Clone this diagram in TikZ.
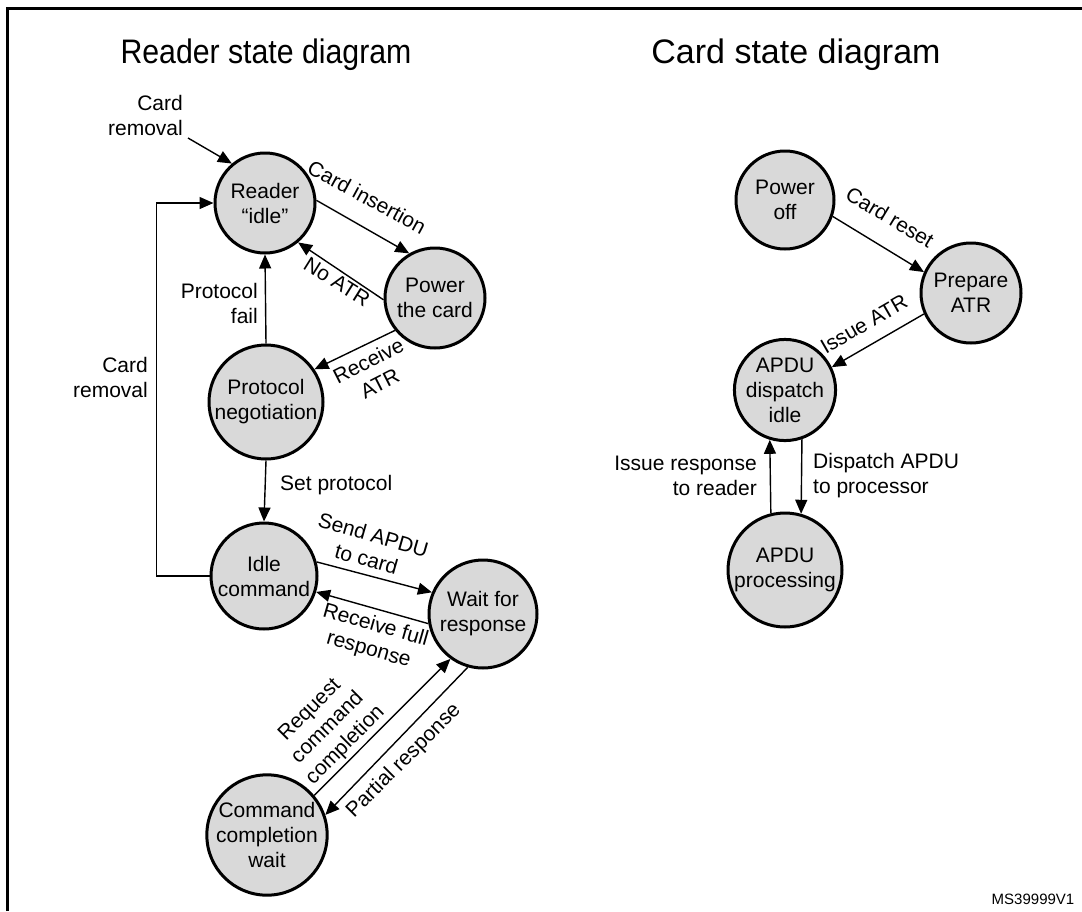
\documentclass[tikz,border=0pt]{standalone}
\usepackage{fontspec}
\usepackage{graphicx}
\setmainfont{Liberation Sans}
\usetikzlibrary{arrows.meta,calc}
\definecolor{stfill}{HTML}{D9D9D9}
\begin{document}
\begin{tikzpicture}[x=1pt,y=-1pt,
  st/.style={circle,draw,line width=3pt,fill=stfill,inner sep=0pt,align=center,font=\fontsize{21}{25}\selectfont},
  tr/.style={line width=1.4pt,-{Triangle[length=14pt,width=12pt]}},
  lbl/.style={font=\fontsize{21}{25}\selectfont,inner sep=0pt},
  ttl/.style={font=\fontsize{34}{40}\selectfont,inner sep=0pt,anchor=base}]
\useasboundingbox (0,0) rectangle (1082,911);
\draw[line width=2.7pt] (7.5,911) -- (7.5,8.5) -- (1082,8.5);

\node[ttl] (t1) at (266,63) {\scalebox{0.89}[1]{Reader state diagram}};
\node[ttl] (t2) at (796,63) {Card state diagram};

% reader states
\node[st,minimum size=100pt] (R) at (265,203) {Reader\\“idle”};
\node[st,minimum size=100pt] (P) at (435,298) {Power\\the card};
\node[st,minimum size=114pt] (N) at (266,402) {Protocol\\negotiation};
\node[st,minimum size=106pt] (I) at (264,576) {Idle\\command};
\node[st,minimum size=108pt] (W) at (483,614) {Wait for\\response};
\node[st,minimum size=116pt] (C) at (267,835) {Command\\completion\\wait};

% card states
\node[st,minimum size=98pt] (O) at (785,200) {Power\\off};
\node[st,minimum size=100pt] (A) at (971,293) {Prepare\\ATR};
\node[st,minimum size=98pt] (D) at (785,390) {APDU\\dispatch\\idle};
\node[st,minimum size=114pt] (Q) at (785,570) {APDU\\processing};

% reader transitions
\coordinate (cr) at (188,138);
\node[lbl,anchor=east,align=right] (lcr) at (183,115) {Card\\removal};
\draw[tr] (cr) -- (R.130);

\draw[tr] (R.3) -- (P.120);
\node[lbl,rotate=-28.5] (lci) at (367,197) {Card insertion};

\draw[tr] (P.182) -- (R.310);
\node[lbl,rotate=-32] (lna) at (337,282) {No ATR};

\draw[tr] (N.north) -- (R.south);
\node[lbl,anchor=east,align=right] (lpf) at (258,303) {Protocol\\fail};

\draw[tr] (P.219) -- (N.34);
\node[lbl,rotate=27,align=center] (lra) at (374,372) {Receive\\ATR};

\draw[tr] (N.south) -- (I.north);
\node[lbl,anchor=west] (lsp) at (280,485) {Set protocol};

\draw[tr] (I.west) -- ++(-53,0) |- (R.west);
\node[lbl,anchor=east,align=right] (lcr2) at (148,377) {Card\\removal};

\draw[tr] (I.15) -- (W.157);
\node[lbl,rotate=-16,align=center] (lsa) at (370,547) {Send APDU\\to card};

\draw[tr] (W.190) -- (I.343);
\node[lbl,rotate=-16,align=center] (lrf) at (372,638) {Receive full\\response};

\draw[tr] (C.40) -- (W.234);
\node[lbl,rotate=45,align=center] (lrc) at (328,728) {Request\\command\\completion};

\draw[tr] (W.254) -- (C.19);
\node[lbl,rotate=45] (lpr) at (404,761) {Partial response};

% card transitions
\draw[tr] (O.-19) -- (A.156);
\node[lbl,rotate=-31] (lcrs) at (890,217) {Card reset};

\draw[tr] (A.204) -- (D.26);
\node[lbl,rotate=30] (lia) at (864,324) {Issue ATR};

\draw[tr] (D.-71) -- (Q.74);
\node[lbl,anchor=west,align=left] (lda) at (813,476) {Dispatch APDU\\to processor};

\draw[tr] (Q.104) -- (D.253);
\node[lbl,anchor=east,align=right] (lir) at (757,476) {Issue response\\to reader};

\node[font=\fontsize{15}{18}\selectfont,inner sep=0pt] (ms) at (1033,899) {MS39999V1};
\end{tikzpicture}
\end{document}
